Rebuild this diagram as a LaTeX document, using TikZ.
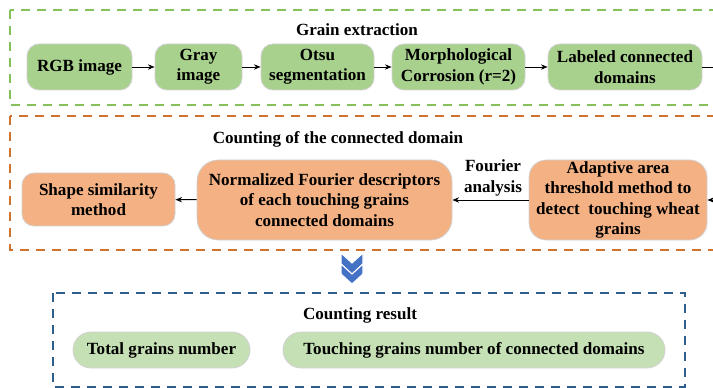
\documentclass[tikz,border=0pt]{standalone}
\usepackage{fontspec}
\setmainfont{Liberation Serif}
\usetikzlibrary{arrows.meta}
\definecolor{gfill}{HTML}{A9D18E}
\definecolor{lgfill}{HTML}{C5E0B4}
\definecolor{ofill}{HTML}{F4B183}
\definecolor{gdash}{HTML}{86C05A}
\definecolor{odash}{HTML}{D2722F}
\definecolor{bdash}{HTML}{2E5E8E}
\definecolor{chev}{HTML}{4472C4}
\tikzset{
  every node/.style={font=\bfseries\fontsize{12.8}{15.3}\selectfont, align=center},
  proc/.style={draw=black!18, line width=0.6pt, align=center, inner sep=1pt},
  gbox/.style={proc, fill=gfill, rounded corners=9pt},
  obox/.style={proc, fill=ofill, rounded corners=9pt},
  obig/.style={proc, fill=ofill, rounded corners=16pt},
  rbox/.style={proc, fill=lgfill, rounded corners=13.5pt},
  frame/.style={line width=1.5pt, dash pattern=on 7pt off 5pt},
  conn/.style={-{Stealth[length=5pt,width=4pt]}, line width=0.7pt, black},
}
\begin{document}
\begin{tikzpicture}[x=0.75pt,y=-0.75pt]
\useasboundingbox (0,0) rectangle (713,388);
\clip (0,0) rectangle (713,388);
% frames
\draw[frame, gdash] (10,10) rectangle (725,105);
\draw[frame, odash] (10,116) rectangle (725,250);
\draw[frame, bdash] (53,293) rectangle (685,387);
% titles
\node (t1) at (357,30) {Grain extraction};
\node (t2) at (338,139) {Counting of the connected domain};
\node (t3) at (360,315) {Counting result};
% row 1
\node[gbox, minimum width=78.75pt, minimum height=34.5pt] (rgb) at (79.5,67) {RGB image};
\node[gbox, minimum width=65.25pt, minimum height=34.5pt] (gray) at (198.5,67) {Gray\\image};
\node[gbox, minimum width=84.75pt, minimum height=34.5pt] (otsu) at (317.5,67) {Otsu\\segmentation};
\node[gbox, minimum width=99.75pt, minimum height=34.5pt] (morph) at (458.5,67) {Morphological\\Corrosion (r=2)};
\node[gbox, minimum width=115.5pt, minimum height=34.5pt] (lab) at (625,67) {Labeled connected\\domains};
\coordinate (out1) at (713,67);
\draw[conn] (rgb) -- (gray);
\draw[conn] (gray) -- (otsu);
\draw[conn] (otsu) -- (morph);
\draw[conn] (morph) -- (lab);
\draw[line width=0.7pt] (lab) -- (out1);
% row 2
\node[obox, minimum width=114.75pt, minimum height=39.75pt] (shape) at (98.5,199.5) {Shape similarity\\method};
\node[obig, minimum width=191.25pt, minimum height=60pt] (norm) at (324.5,200) {Normalized Fourier descriptors\\of each touching grains\\connected domains};
\node[obig, minimum width=133.5pt, minimum height=60pt, rounded corners=13pt] (adapt) at (618,200) {Adaptive area\\threshold method to\\detect\ \ touching wheat\\grains};
\node (four) at (493,178) {Fourier\\analysis};
\coordinate (in2) at (713,200);
\draw[conn] (in2) -- (adapt);
\draw[conn] (adapt) -- (norm);
\draw[conn] (norm) -- (shape);
% chevrons
\fill[chev, draw=white, line width=0.8pt] (341,253) -- (352,263) -- (363,253) -- (363,264) -- (352,274) -- (341,264) -- cycle;
\fill[chev, draw=white, line width=0.8pt] (341,264) -- (352,274) -- (363,264) -- (363,274) -- (352,284) -- (341,274) -- cycle;
% row 3
\node[rbox, minimum width=132.75pt, minimum height=27pt] (total) at (161.5,350) {Total grains number};
\node[rbox, minimum width=286.5pt, minimum height=27pt] (touch) at (474,350) {Touching grains number of connected domains};
\end{tikzpicture}
\end{document}
